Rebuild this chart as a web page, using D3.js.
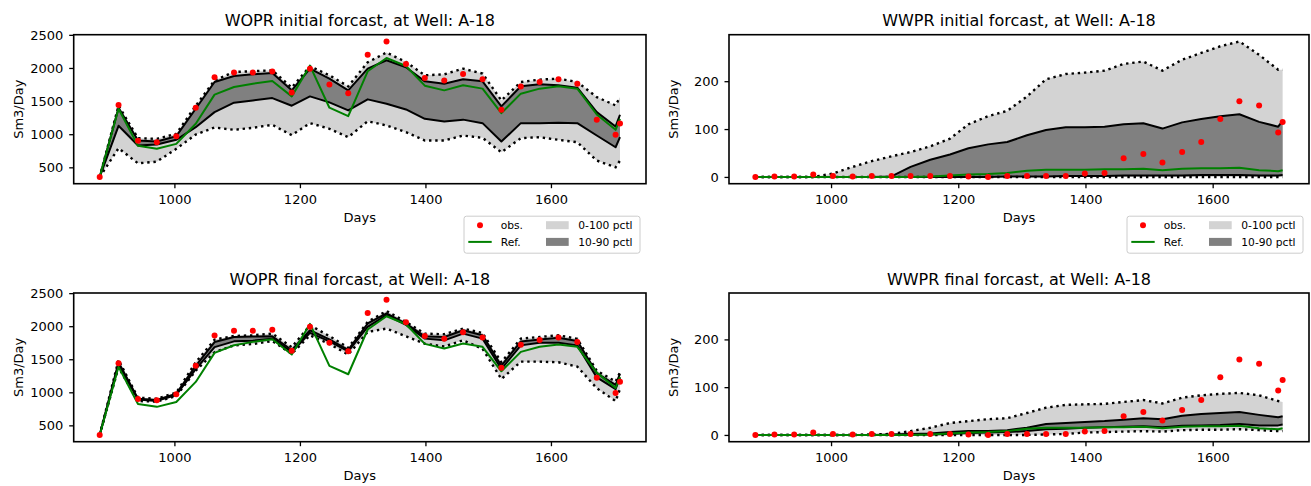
<!DOCTYPE html>
<html>
<head>
<meta charset="utf-8">
<script src="https://cdn.jsdelivr.net/npm/d3@7"></script>
<style>
  html, body { margin: 0; padding: 0; background: #fff; }
  svg { display: block; font-family: "DejaVu Sans", sans-serif; }
</style>
</head>
<body>
<svg id="chart" width="1311" height="486"></svg>
<script>
// Report days (x values shared by every series)
const days = [881, 911, 942, 972, 1003, 1034, 1064, 1095, 1125, 1156, 1187, 1216, 1247, 1277, 1308,
              1338, 1369, 1399, 1430, 1460, 1491, 1521, 1552, 1582, 1612, 1642, 1673, 1703, 1710];

// Oil production rate (Sm3/Day)
const obsWOPR = [355, 1440, 900, 880, 970, 1400, 1860, 1930, 1930, 1945, 1630, 1990, 1750, 1620, 2200,
                 2400, 2060, 1850, 1810, 1910, 1830, 1370, 1720, 1790, 1830, 1760, 1220, 990, 1160];
const refWOPR = [355, 1385, 824, 780, 854, 1157, 1597, 1712, 1763, 1803, 1571, 2035, 1400, 1273, 1950,
                 2150, 2030, 1733, 1662, 1738, 1688, 1318, 1612, 1688, 1723, 1688, 1298, 1066, 1233];
const initMaxWOPR = [355, 1430, 940, 930, 1006, 1430, 1813, 1940, 1950, 1965, 1703, 2026, 1889, 1722, 2086,
                     2233, 2091, 1889, 1904, 1990, 1915, 1510, 1788, 1824, 1839, 1788, 1560, 1435, 1560];
const initP90WOPR = [355, 1400, 905, 890, 970, 1385, 1788, 1879, 1904, 1924, 1662, 1990, 1839, 1662, 1990,
                     2117, 2010, 1798, 1763, 1829, 1798, 1420, 1723, 1753, 1738, 1703, 1333, 1117, 1294];
const initP10WOPR = [355, 1127, 830, 845, 915, 1106, 1333, 1476, 1510, 1545, 1430, 1571, 1480, 1359, 1526,
                     1460, 1374, 1233, 1192, 1220, 1167, 889, 1167, 1167, 1172, 1167, 980, 803, 955];
const initMinWOPR = [355, 788, 560, 586, 779, 995, 1101, 1066, 1097, 1142, 985, 1167, 1082, 955, 1196,
                     1132, 1030, 905, 905, 980, 945, 727, 940, 955, 915, 879, 602, 500, 602];
const finMaxWOPR = [355, 1490, 918, 903, 995, 1454, 1797, 1852, 1862, 1888, 1683, 2015, 1850, 1674, 2066,
                    2230, 2066, 1888, 1878, 1964, 1898, 1454, 1812, 1837, 1862, 1810, 1327, 1163, 1301];
const finP90WOPR = [355, 1454, 903, 885, 980, 1400, 1760, 1836, 1845, 1847, 1640, 1939, 1800, 1643, 2041,
                    2194, 2040, 1847, 1837, 1939, 1862, 1403, 1770, 1800, 1825, 1775, 1290, 1112, 1280];
const finP10WOPR = [355, 1418, 890, 870, 960, 1350, 1683, 1771, 1780, 1812, 1610, 1900, 1770, 1620, 1990,
                    2168, 2020, 1812, 1786, 1888, 1812, 1352, 1710, 1750, 1750, 1710, 1225, 1047, 1220];
const finMinWOPR = [355, 1377, 867, 860, 944, 1327, 1607, 1709, 1730, 1775, 1582, 1862, 1730, 1572, 1913,
                    1964, 1847, 1735, 1694, 1786, 1658, 1200, 1464, 1464, 1454, 1388, 1062, 867, 1050];

// Water production rate (Sm3/Day)
const obsWWPR = [0, 1, 1, 5, 2, 1, 2, 2, 2, 2, 2, 1, 0, 2, 2,
                 2, 2, 7, 8, 39, 48, 30, 52, 73, 121, 158, 149, 93, 115];
const refWWPR = [0, 0, 0, 0, 0, 0, 0, 0, 0, 1, 3, 5, 6, 8, 13,
                 15, 15, 15, 16, 16, 17, 14, 17, 18, 18, 19, 14, 12, 14];
const initMaxWWPR = [0, 0, 0, 0, 7, 21, 33, 43, 52, 64, 80, 110, 127, 138, 168,
                     204, 215, 218, 222, 236, 241, 222, 245, 259, 273, 283, 255, 224, 224];
const initP90WWPR = [0, 0, 0, 0, 0, 0, 0, 1, 21, 36, 47, 60, 68, 73, 87,
                     98, 104, 104, 105, 110, 112, 101, 114, 121, 127, 131, 115, 105, 117];
const initP10WWPR = [0, 0, 0, 0, 0, 0, 0, 0, 0, 0, 0, 0, 0, 1, 1,
                     1, 2, 2, 2, 3, 3, 3, 3, 4, 4, 4, 3, 3, 4];
const initMinWWPR = [0, 0, 0, 0, 0, 0, 0, 0, 0, 0, 0, 0, 0, 0, 0,
                     0, 0, 0, 0, 0, 0, 0, 0, 0, 0, 0, 0, 0, 0];
const finMaxWWPR = [0, 0, 0, 0, 0, 0, 1, 2, 8, 15, 25, 29, 33, 35, 46,
                    57, 63, 64, 65, 69, 73, 66, 78, 83, 86, 88, 83, 71, 69];
const finP90WWPR = [0, 0, 0, 0, 0, 0, 0, 1, 2, 3, 6, 8, 8, 10, 15,
                    23, 25, 27, 29, 32, 35, 33, 40, 44, 46, 48, 42, 37, 39];
const finP10WWPR = [0, 0, 0, 0, 0, 0, 0, 0, 1, 1, 2, 4, 5, 6, 8,
                    12, 13, 15, 16, 17, 18, 16, 19, 20, 21, 23, 20, 20, 22];
const finMinWWPR = [0, 0, 0, 0, 0, 0, 0, 0, 0, 0, 0, 0, 0, 0, 0,
                    1, 2, 5, 6, 7, 8, 7, 10, 11, 11, 12, 10, 8, 8];

// Tick labels
const xTicks = [1000, 1200, 1400, 1600];
const yTicksWOPR = [500, 1000, 1500, 2000, 2500];
const yTicksWWPR = [0, 100, 200];

const legendItems = ["obs.", "Ref.", "0-100 pctl", "10-90 pctl"];

// ---------------------------------------------------------------------------
const svg = d3.select("#chart");
const FONT = "DejaVu Sans, sans-serif";

function padded(values) {
  const [lo, hi] = d3.extent(values);
  const p = (hi - lo) * 0.05;
  return [lo - p, hi + p];
}

const xDomain = padded(days);
const yDomainWOPR = padded([].concat(obsWOPR, refWOPR, initMaxWOPR, initMinWOPR, finMaxWOPR, finMinWOPR));
const yDomainWWPR = padded([].concat(obsWWPR, refWWPR, initMaxWWPR, initMinWWPR, finMaxWWPR, finMinWWPR));

const panels = [
  { title: "WOPR initial forcast, at Well: A-18", box: [73.7, 646, 34.7, 183.7], yDomain: yDomainWOPR, yTicks: yTicksWOPR,
    obs: obsWOPR, ref: refWOPR, max: initMaxWOPR, p90: initP90WOPR, p10: initP10WOPR, min: initMinWOPR, legend: true },
  { title: "WWPR initial forcast, at Well: A-18", box: [729, 1309, 34.7, 183.7], yDomain: yDomainWWPR, yTicks: yTicksWWPR,
    obs: obsWWPR, ref: refWWPR, max: initMaxWWPR, p90: initP90WWPR, p10: initP10WWPR, min: initMinWWPR, legend: true },
  { title: "WOPR final forcast, at Well: A-18", box: [73.7, 646, 293, 441.7], yDomain: yDomainWOPR, yTicks: yTicksWOPR,
    obs: obsWOPR, ref: refWOPR, max: finMaxWOPR, p90: finP90WOPR, p10: finP10WOPR, min: finMinWOPR, legend: false },
  { title: "WWPR final forcast, at Well: A-18", box: [729, 1309, 293, 441.7], yDomain: yDomainWWPR, yTicks: yTicksWWPR,
    obs: obsWWPR, ref: refWWPR, max: finMaxWWPR, p90: finP90WWPR, p10: finP10WWPR, min: finMinWWPR, legend: false }
];

panels.forEach(drawPanel);

function drawPanel(p) {
  const [left, right, top, bottom] = p.box;
  const x = d3.scaleLinear().domain(xDomain).range([left, right]);
  const y = d3.scaleLinear().domain(p.yDomain).range([bottom, top]);
  const g = svg.append("g");
  const idx = d3.range(days.length);

  const band = (lo, hi) => d3.area().x(i => x(days[i])).y0(i => y(lo[i])).y1(i => y(hi[i]));
  const line = arr => d3.line().x(i => x(days[i])).y(i => y(arr[i]));

  // 0-100 percentile envelope and 10-90 percentile band
  g.append("path").attr("d", band(p.min, p.max)(idx)).attr("fill", "#d3d3d3");
  g.append("path").attr("d", band(p.p10, p.p90)(idx)).attr("fill", "#808080");

  // envelope edges (dotted) and 10/90 percentile lines (solid)
  [p.min, p.max].forEach(arr => {
    g.append("path").attr("d", line(arr)(idx)).attr("fill", "none")
      .attr("stroke", "#000").attr("stroke-width", 2.4).attr("stroke-dasharray", "2.4,3.8");
  });
  [p.p10, p.p90].forEach(arr => {
    g.append("path").attr("d", line(arr)(idx)).attr("fill", "none")
      .attr("stroke", "#000").attr("stroke-width", 2).attr("stroke-linejoin", "round");
  });

  // reference run
  g.append("path").attr("d", line(p.ref)(idx)).attr("fill", "none")
    .attr("stroke", "#008000").attr("stroke-width", 2).attr("stroke-linejoin", "round");

  // observations
  g.selectAll("circle.obs").data(idx).join("circle").attr("class", "obs")
    .attr("cx", i => x(days[i])).attr("cy", i => y(p.obs[i])).attr("r", 3).attr("fill", "#ff0000");

  // axes
  const xAxis = d3.axisBottom(x).tickValues(xTicks).tickFormat(d3.format("d"))
    .tickSize(4.5).tickPadding(6.5).tickSizeOuter(0);
  const yAxis = d3.axisLeft(y).tickValues(p.yTicks).tickFormat(d3.format("d"))
    .tickSize(4.5).tickPadding(5.8).tickSizeOuter(0);

  const gx = g.append("g").attr("transform", `translate(0,${bottom})`).call(xAxis);
  const gy = g.append("g").attr("transform", `translate(${left},0)`).call(yAxis);
  [gx, gy].forEach(a => {
    a.select(".domain").remove();
    a.selectAll(".tick line").attr("stroke", "#000").attr("stroke-width", 1.3);
    a.selectAll(".tick text").attr("fill", "#000").style("font-size", "13px").style("font-family", FONT);
  });

  // frame
  g.append("rect").attr("x", left).attr("y", top).attr("width", right - left).attr("height", bottom - top)
    .attr("fill", "none").attr("stroke", "#000").attr("stroke-width", 1.6);

  // title and axis labels
  g.append("text").attr("x", (left + right) / 2).attr("y", top - 8.5).attr("text-anchor", "middle")
    .style("font-size", "16px").style("font-family", FONT).attr("fill", "#000").text(p.title);
  g.append("text").attr("x", (left + right) / 2).attr("y", bottom + 38).attr("text-anchor", "middle")
    .style("font-size", "13px").style("font-family", FONT).attr("fill", "#000").text("Days");
  g.append("text").attr("transform", `translate(${left - 51},${(top + bottom) / 2}) rotate(-90)`)
    .attr("text-anchor", "middle")
    .style("font-size", "13px").style("font-family", FONT).attr("fill", "#000").text("Sm3/Day");

  if (p.legend) drawLegend(g, right - 6 - 176, bottom + 32.5);
}

function drawLegend(g, lx, ly) {
  const lg = g.append("g").attr("transform", `translate(${lx},${ly})`);
  lg.append("rect").attr("x", 0).attr("y", 0).attr("width", 176).attr("height", 37).attr("rx", 2.5)
    .attr("fill", "#fff").attr("fill-opacity", 0.8).attr("stroke", "#cccccc").attr("stroke-width", 1);
  const r1 = 9, r2 = 25.7;
  lg.append("circle").attr("cx", 16).attr("cy", r1).attr("r", 3).attr("fill", "#ff0000");
  lg.append("line").attr("x1", 4.3).attr("x2", 27.7).attr("y1", r2).attr("y2", r2)
    .attr("stroke", "#008000").attr("stroke-width", 2);
  lg.append("rect").attr("x", 82).attr("y", r1 - 4).attr("width", 22.7).attr("height", 8).attr("fill", "#d3d3d3");
  lg.append("rect").attr("x", 82).attr("y", r2 - 4).attr("width", 22.7).attr("height", 8).attr("fill", "#808080");
  const pos = [[36.7, r1], [36.7, r2], [114.3, r1], [114.3, r2]];
  legendItems.forEach((t, i) => {
    lg.append("text").attr("x", pos[i][0]).attr("y", pos[i][1]).attr("dy", "0.36em")
      .style("font-size", "10.7px").style("font-family", FONT).attr("fill", "#000").text(t);
  });
}
</script>
</body>
</html>
